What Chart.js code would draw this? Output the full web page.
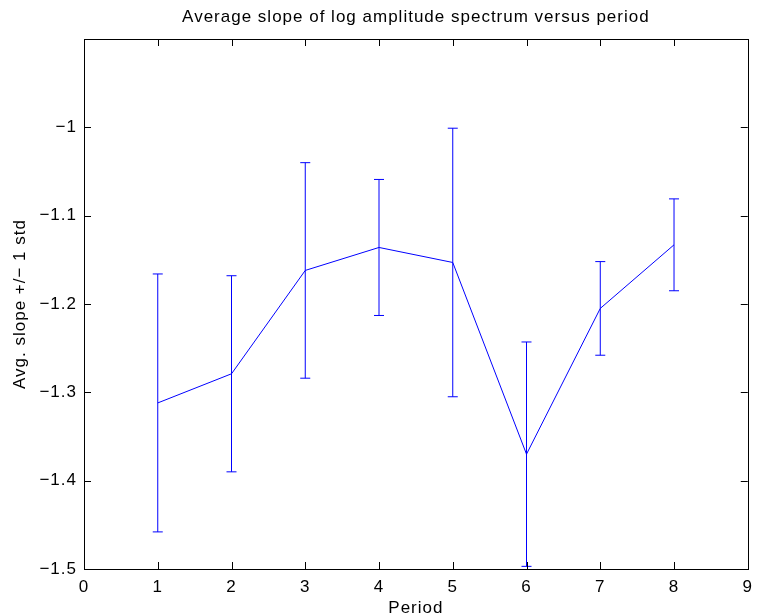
<!DOCTYPE html>
<html>
<head>
<meta charset="utf-8">
<script src="https://cdn.jsdelivr.net/npm/chart.js@4"></script>
<style>
  html, body { margin: 0; padding: 0; background: #ffffff; }
  #chart { display: block; }
</style>
</head>
<body>
<canvas id="chart" width="761" height="615"></canvas>
<script>
// data
const periods = [1, 2, 3, 4, 5, 6, 7, 8];
const avgSlope = [-1.312, -1.279, -1.162, -1.136, -1.153, -1.370, -1.205, -1.133];
const slopeStd = [0.146, 0.111, 0.122, 0.077, 0.152, 0.127, 0.053, 0.052];

const xTicks = [0, 1, 2, 3, 4, 5, 6, 7, 8, 9];
const yTicks = [-1.5, -1.4, -1.3, -1.2, -1.1, -1, -0.9];

const titleText = "Average slope of log amplitude spectrum versus period";
const xLabel = "Period";
const yLabel = "Avg. slope +/\u2212 1 std";

const lineBlue = "#0000ff";
const fontFamily = "'Liberation Sans', Arial, Helvetica, sans-serif";

function fmtTick(v) {
    return String(Math.round(v * 10) / 10).replace("-", "\u2212");
}

// MATLAB text is a bit wider than Liberation Sans, add some spacing
const spacingPlugin = {
    id: "spacing",
    beforeLayout(chart) { chart.ctx.letterSpacing = "1px"; },
    beforeDraw(chart) { chart.ctx.letterSpacing = "1px"; }
};

// box + inward ticks on all four sides
const boxPlugin = {
    id: "box",
    afterDraw(chart) {
        const { ctx, chartArea: a, scales } = chart;
        const len = 7;
        ctx.save();
        ctx.strokeStyle = "#000000";
        ctx.lineWidth = 1;
        ctx.beginPath();
        xTicks.forEach(t => {
            const px = Math.round(scales.x.getPixelForValue(t)) + 0.5;
            ctx.moveTo(px, a.bottom);
            ctx.lineTo(px, a.bottom - len);
            ctx.moveTo(px, a.top);
            ctx.lineTo(px, a.top + len);
        });
        yTicks.forEach(t => {
            const py = Math.round(scales.y.getPixelForValue(t)) + 0.5;
            ctx.moveTo(a.left, py);
            ctx.lineTo(a.left + len, py);
            ctx.moveTo(a.right, py);
            ctx.lineTo(a.right - len, py);
        });
        ctx.stroke();
        ctx.strokeRect(Math.round(a.left) + 0.5, Math.round(a.top) + 0.5,
            Math.round(a.right - a.left), Math.round(a.bottom - a.top));
        ctx.restore();
    }
};

// vertical error bars with small caps
const errorBarPlugin = {
    id: "errorBars",
    afterDatasetsDraw(chart) {
        const { ctx, scales } = chart;
        const cap = 5;
        ctx.save();
        ctx.strokeStyle = lineBlue;
        ctx.lineWidth = 1;
        ctx.beginPath();
        periods.forEach((p, i) => {
            const px = scales.x.getPixelForValue(p);
            const yHi = scales.y.getPixelForValue(avgSlope[i] + slopeStd[i]);
            const yLo = scales.y.getPixelForValue(avgSlope[i] - slopeStd[i]);
            ctx.moveTo(px, yHi);
            ctx.lineTo(px, yLo);
            ctx.moveTo(px - cap, yHi);
            ctx.lineTo(px + cap, yHi);
            ctx.moveTo(px - cap, yLo);
            ctx.lineTo(px + cap, yLo);
        });
        ctx.stroke();
        ctx.restore();
    }
};

const ctx = document.getElementById("chart").getContext("2d");

new Chart(ctx, {
    type: "line",
    data: {
        datasets: [{
            label: "avg slope",
            data: periods.map((p, i) => ({ x: p, y: avgSlope[i] })),
            borderColor: lineBlue,
            borderWidth: 1,
            pointRadius: 0,
            tension: 0,
            fill: false
        }]
    },
    options: {
        responsive: false,
        animation: false,
        layout: { padding: { left: 0, right: 5, top: 0, bottom: 0 } },
        plugins: {
            legend: { display: false },
            tooltip: { enabled: false },
            title: {
                display: true,
                fullSize: false, // centre over the axes, like MATLAB
                text: titleText,
                color: "#000000",
                font: { family: fontFamily, size: 17, weight: "normal", lineHeight: 1.2 },
                padding: { top: 7, bottom: 11.6 }
            }
        },
        scales: {
            x: {
                type: "linear",
                min: 0,
                max: 9,
                afterFit(scale) { scale.height = 46; },
                afterBuildTicks(scale) { scale.ticks = xTicks.map(v => ({ value: v })); },
                grid: { display: false, drawTicks: false },
                border: { display: false },
                ticks: {
                    color: "#000000",
                    padding: 8,
                    maxRotation: 0,
                    font: { family: fontFamily, size: 17 },
                    callback: v => fmtTick(v)
                },
                title: {
                    display: true,
                    text: xLabel,
                    color: "#000000",
                    font: { family: fontFamily, size: 17 },
                    padding: { top: 0, bottom: -4 }
                }
            },
            y: {
                type: "linear",
                min: -1.5,
                max: -0.9,
                afterFit(scale) { scale.width = 84; },
                afterBuildTicks(scale) { scale.ticks = yTicks.map(v => ({ value: v })); },
                grid: { display: false, drawTicks: false },
                border: { display: false },
                ticks: {
                    color: "#000000",
                    padding: 7,
                    font: { family: fontFamily, size: 17 },
                    callback: v => (v > -0.95 ? "" : fmtTick(v))
                },
                title: {
                    display: true,
                    text: yLabel,
                    color: "#000000",
                    font: { family: fontFamily, size: 17 },
                    padding: { top: 10, bottom: 0 }
                }
            }
        }
    },
    plugins: [spacingPlugin, errorBarPlugin, boxPlugin]
});
</script>
</body>
</html>
